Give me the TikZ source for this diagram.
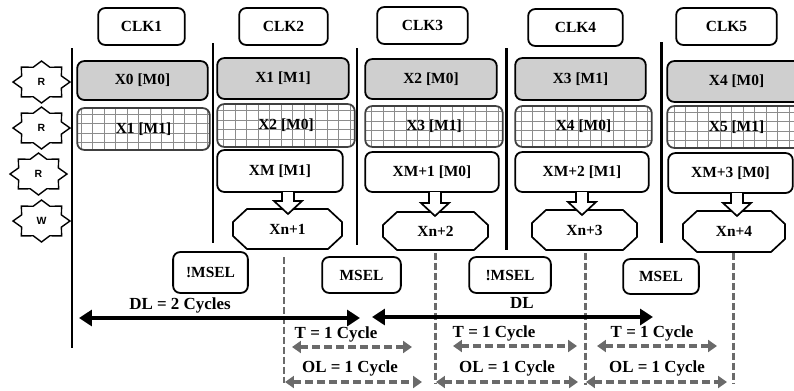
\documentclass[tikz,border=0pt]{standalone}
\usepackage{fontspec}
\setmainfont{Liberation Serif}
\newfontfamily\labsans{Liberation Sans}
\usetikzlibrary{arrows.meta,calc}
\definecolor{boxgray}{HTML}{CFCFCF}
\definecolor{gridline}{HTML}{8C8C8C}
\definecolor{dashgray}{HTML}{6A6A6A}

\newcommand{\mkbox}[7]{%
 \pgfmathsetmacro{\mbcx}{(#2+#4)/2}\pgfmathsetmacro{\mbcy}{(#3+#5)/2}%
 \pgfmathsetmacro{\mbw}{#4-#2}\pgfmathsetmacro{\mbh}{#5-#3}%
 \node[#6, minimum width=\mbw pt, minimum height=\mbh pt] (#1) at (\mbcx,\mbcy) {#7};}

\newcommand{\mkstar}[4]{%
 \draw[starline] ($(#2,#3)+(0:28.5 and 21)$)
   \foreach \k in {0,...,7}{ -- ($(#2,#3)+(\k*45+22.5:21.5 and 16)$) -- ($(#2,#3)+(\k*45+45:28.5 and 21)$)} -- cycle;
 \node[starfont] (#1) at (#2,#3) {#4};}

\newcommand{\mkoct}[6]{%
 \draw[octline] (#2+14,#3) -- (#4-14,#3) -- (#4,#3+13) -- (#4,#5-13) -- (#4-14,#5)
   -- (#2+14,#5) -- (#2,#5-13) -- (#2,#3+13) -- cycle;
 \node[boxfont] (#1) at ({(#2+#4)/2},{(#3+#5)/2}) {#6};}

\newcommand{\blockarr}[3]{%
 \draw[octline] (#1-6,#2) -- (#1-6,#3-13) -- (#1-14,#3-13) -- (#1,#3) -- (#1+14,#3-13)
   -- (#1+6,#3-13) -- (#1+6,#2);}

\begin{document}
\begin{tikzpicture}[x=1bp,y=-1bp,
  boxfont/.style={font=\bfseries\fontsize{15.5}{18}\selectfont},
  labfont/.style={font=\bfseries\fontsize{17}{20}\selectfont, inner sep=0},
  starfont/.style={font=\labsans\bfseries\fontsize{10.5}{12}\selectfont, inner sep=0},
  starline/.style={line width=1.4, fill=white},
  octline/.style={line width=1.7, fill=white, line join=miter},
  clkbox/.style={draw, line width=1.8, rounded corners=7, fill=white, boxfont, inner sep=0},
  graybox/.style={draw, line width=1.8, rounded corners=7, fill=boxgray, boxfont, inner sep=0},
  gridbox/.style={draw=gray!50!black, line width=1.8, rounded corners=7, fill=white, boxfont, inner sep=0,
    path picture={\draw[gridline, line width=1, xstep=11.5pt, ystep=9.5pt]
      (path picture bounding box.south west) grid (path picture bounding box.north east);}},
  sepline/.style={line width=3},
  vdash/.style={dashgray, line width=3, dash pattern=on 7pt off 3pt},
  dlarrow/.style={line width=4.5, {Triangle[length=13pt,width=16pt]}-{Triangle[length=13pt,width=16pt]}},
  dasharrow/.style={dashgray, line width=3.5, dash pattern=on 8pt off 4pt,
    {Triangle[length=9pt,width=12pt]}-{Triangle[length=9pt,width=12pt]}}
]
\useasboundingbox (0,0) rectangle (794,390);
\clip (0,0) rectangle (794,390);

% clock boxes
\mkbox{clk1}{98}{8}{185}{45}{clkbox}{CLK1}
\mkbox{clk2}{239}{8}{328}{45}{clkbox}{CLK2}
\mkbox{clk3}{377}{7}{468}{44}{clkbox}{CLK3}
\mkbox{clk4}{528}{9}{623}{46}{clkbox}{CLK4}
\mkbox{clk5}{676}{8}{777}{45}{clkbox}{CLK5}

% separator lines
\coordinate (s1a) at (72,48);  \coordinate (s1b) at (72,348);
\coordinate (s2a) at (213,43); \coordinate (s2b) at (213,243);
\coordinate (s3a) at (357,48); \coordinate (s3b) at (357,245);
\coordinate (s4a) at (506,48); \coordinate (s4b) at (506,250);
\coordinate (s5a) at (661,42); \coordinate (s5b) at (661,243);
\foreach \s in {1,...,5}{\draw[sepline] (s\s a) -- (s\s b);}

% stars
\mkstar{st1}{41.5}{82}{R}
\mkstar{st2}{41.5}{128}{R}
\mkstar{st3}{38.5}{174}{R}
\mkstar{st4}{41.5}{221}{W}

% row 1
\mkbox{r1a}{77}{61}{208}{100}{graybox}{X0 [M0]}
\mkbox{r1b}{217}{58}{349}{99}{graybox}{X1 [M1]}
\mkbox{r1c}{365}{59}{497}{99}{graybox}{X2 [M0]}
\mkbox{r1d}{515}{58}{646}{100}{graybox}{X3 [M1]}
\mkbox{r1e}{667}{61}{806}{102}{graybox}{X4 [M0]}

% row 2
\mkbox{r2a}{77}{108}{210}{150}{gridbox}{X1 [M1]}
\mkbox{r2b}{217}{104}{355}{147}{gridbox}{X2 [M0]}
\mkbox{r2c}{365}{106}{503}{147}{gridbox}{X3 [M1]}
\mkbox{r2d}{515}{106}{652}{147}{gridbox}{X4 [M0]}
\mkbox{r2e}{667}{106}{806}{148}{gridbox}{X5 [M1]}

% row 3
\mkbox{r3b}{217}{150}{343}{192}{clkbox}{XM [M1]}
\mkbox{r3c}{365}{152}{499}{192}{clkbox}{XM+1 [M0]}
\mkbox{r3d}{515}{152}{649}{192}{clkbox}{XM+2 [M1]}
\mkbox{r3e}{668}{153}{793}{193}{clkbox}{XM+3 [M0]}

% octagons
\mkoct{xn1}{233}{209}{342}{249}{Xn+1}
\mkoct{xn2}{383}{212}{488}{250}{Xn+2}
\mkoct{xn3}{532}{210}{637}{250}{Xn+3}
\mkoct{xn4}{683}{211}{785}{252}{Xn+4}

% block arrows
\blockarr{288}{192}{214}
\blockarr{435}{192}{216}
\blockarr{582}{192}{215}
\blockarr{737}{193}{216}

% select boxes
\mkbox{ms1}{173}{252}{248}{293}{clkbox}{!MSEL}
\mkbox{ms2}{322}{257}{401}{293}{clkbox}{MSEL}
\mkbox{ms3}{469}{257}{551}{293}{clkbox}{!MSEL}
\mkbox{ms4}{623}{259}{699}{294}{clkbox}{MSEL}

% dashed verticals
\coordinate (v1a) at (284,257); \coordinate (v1b) at (284,383);
\coordinate (v2a) at (435,253); \coordinate (v2b) at (435,383);
\coordinate (v3a) at (585,253); \coordinate (v3b) at (585,385);
\coordinate (v4a) at (733,253); \coordinate (v4b) at (733,383);
\foreach \s in {1,...,4}{\draw[vdash] (v\s a) -- (v\s b);}

% DL arrows
\node[labfont] (dl1) at (180,305) {DL = 2 Cycles};
\node[labfont] (dl2) at (522,303) {DL};
\coordinate (d1a) at (79,318);  \coordinate (d1b) at (360,318);
\coordinate (d2a) at (372,317); \coordinate (d2b) at (653,317);
\draw[dlarrow] (d1a) -- (d1b);
\draw[dlarrow] (d2a) -- (d2b);

% T arrows
\node[labfont] (t1) at (336,334) {T = 1 Cycle};
\node[labfont] (t2) at (494,333) {T = 1 Cycle};
\node[labfont] (t3) at (652,333) {T = 1 Cycle};
\coordinate (t1a) at (292,347); \coordinate (t1b) at (412,347);
\coordinate (t2a) at (453,346); \coordinate (t2b) at (577,346);
\coordinate (t3a) at (597,346); \coordinate (t3b) at (717,346);
\foreach \s in {1,2,3}{\draw[dasharrow] (t\s a) -- (t\s b);}

% OL arrows
\node[labfont] (o1) at (350,368) {OL = 1 Cycle};
\node[labfont] (o2) at (507,368) {OL = 1 Cycle};
\node[labfont] (o3) at (657,368) {OL = 1 Cycle};
\coordinate (o1a) at (285,382); \coordinate (o1b) at (422,382);
\coordinate (o2a) at (436,382); \coordinate (o2b) at (578,382);
\coordinate (o3a) at (586,382); \coordinate (o3b) at (727,382);
\foreach \s in {1,2,3}{\draw[dasharrow] (o\s a) -- (o\s b);}
\end{tikzpicture}
\end{document}
